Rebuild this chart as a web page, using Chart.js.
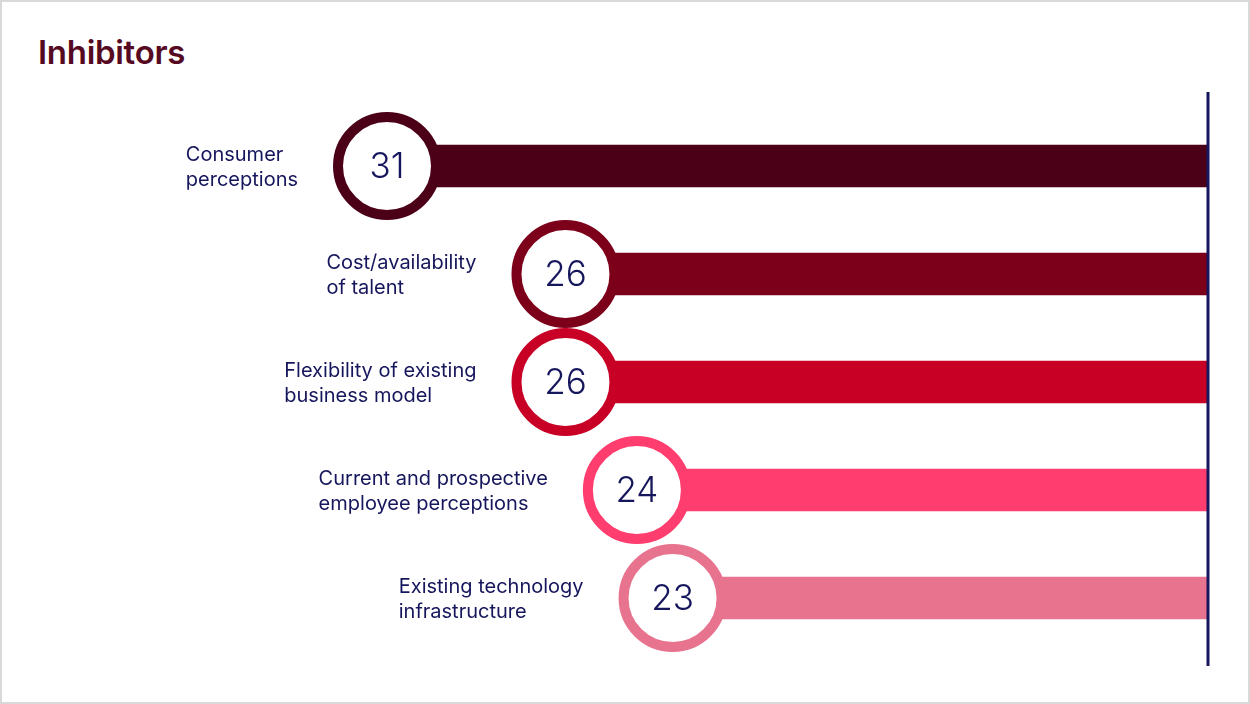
<!DOCTYPE html>
<html lang="en">
<head>
    <meta charset="UTF-8">
    <title>Inhibitors</title>
    <script src="https://cdn.jsdelivr.net/npm/chart.js"></script>
    <style>
        html, body { margin: 0; padding: 0; background: #fff; }
        #frame {
            position: relative;
            width: 1246px; height: 700px;
            border: 2px solid #d9d9d9;
            overflow: hidden;
        }
        h2 {
            position: absolute; left: 36px; top: 30px; margin: 0;
            font-family: Inter, "Noto Sans", sans-serif;
            font-weight: 600; font-size: 33px; color: #560a22;
            letter-spacing: -0.3px;
        }
        #chartBox { position: absolute; left: 0; top: 0; width: 1246px; height: 700px; }
    </style>
</head>
<body>
<div id="frame">
    <h2>Inhibitors</h2>
    <div id="chartBox"><canvas id="grafico"></canvas></div>
</div>

<script>
    const categorias = [
        ['Consumer', 'perceptions'],
        ['Cost/availability', 'of talent'],
        ['Flexibility of existing', 'business model'],
        ['Current and prospective', 'employee perceptions'],
        ['Existing technology', 'infrastructure']
    ];
    const valores = [31, 26, 26, 24, 23];
    const colores = ['#4b0018', '#7d001b', '#c80026', '#ff3e6f', '#e8738f'];

    const navy = '#16165c';

    // circles with the value, labels to the left, and the end rule on the right
    const marcadores = {
        id: 'marcadores',
        afterDatasetsDraw(chart) {
            const ctx = chart.ctx;
            const meta = chart.getDatasetMeta(0);
            const area = chart.chartArea;

            ctx.save();
            ctx.strokeStyle = navy;
            ctx.lineWidth = 3;
            ctx.beginPath();
            ctx.moveTo(area.right, 90);
            ctx.lineTo(area.right, 664);
            ctx.stroke();

            meta.data.forEach((bar, i) => {
                const cx = bar.x, cy = bar.y;
                ctx.beginPath();
                ctx.arc(cx, cy, 49, 0, Math.PI * 2);
                ctx.fillStyle = '#fff';
                ctx.fill();
                ctx.lineWidth = 10;
                ctx.strokeStyle = colores[i];
                ctx.stroke();

                ctx.fillStyle = navy;
                ctx.font = '300 35px Inter, "Noto Sans", sans-serif';
                ctx.textAlign = 'center';
                ctx.textBaseline = 'middle';
                ctx.fillText(String(valores[i]), cx, cy + 1);

                ctx.font = '20px Inter, "Noto Sans", sans-serif';
                ctx.textAlign = 'left';
                ctx.textBaseline = 'middle';
                const lineas = categorias[i];
                const ancho = Math.max(...lineas.map(l => ctx.measureText(l).width));
                const x0 = cx - 54 - 35 - ancho;
                ctx.fillText(lineas[0], x0, cy - 11);
                ctx.fillText(lineas[1], x0, cy + 14);
            });
            ctx.restore();
        }
    };

    new Chart(document.getElementById('grafico'), {
        type: 'bar',
        data: {
            labels: categorias.map(c => c.join(' ')),
            datasets: [{
                data: valores,
                backgroundColor: colores,
                barThickness: 42,
                borderWidth: 0
            }]
        },
        options: {
            indexAxis: 'y',
            responsive: true,
            maintainAspectRatio: false,
            animation: false,
            layout: { padding: { left: 385, right: 40, top: 110, bottom: 50 } },
            plugins: { legend: { display: false }, tooltip: { enabled: false } },
            scales: {
                x: { display: false, reverse: true, min: 8, max: 31 },
                y: { display: false }
            }
        },
        plugins: [marcadores]
    });
</script>
</body>
</html>
